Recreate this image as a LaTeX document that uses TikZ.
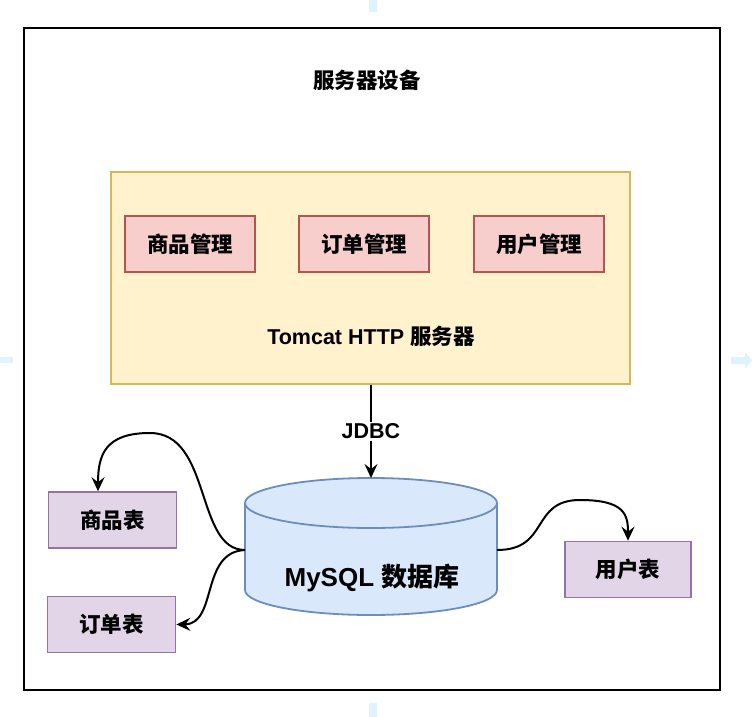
\documentclass[tikz,border=0pt]{standalone}
\usepackage{fontspec}
\setmainfont{Liberation Sans}
\newfontfamily\cjk{Noto Sans CJK SC}
\usetikzlibrary{arrows.meta}
\definecolor{tomfill}{HTML}{FFF2CC}
\definecolor{tomdraw}{HTML}{D6B656}
\definecolor{redfill}{HTML}{F8CECC}
\definecolor{reddraw}{HTML}{B85450}
\definecolor{dbfill}{HTML}{DAE8FC}
\definecolor{dbdraw}{HTML}{6C8EBF}
\definecolor{tabfill}{HTML}{E1D5E7}
\definecolor{tabdraw}{HTML}{9673A6}
\definecolor{guide}{HTML}{DFF2FD}
\tikzset{
  txt/.style={font=\fontsize{21.5}{25}\selectfont\bfseries, inner sep=0},
  modbox/.style={draw=reddraw, fill=redfill, line width=1.6pt, minimum width=130pt, minimum height=56pt, inner sep=0, font=\fontsize{21.5}{25}\selectfont\bfseries\cjk},
  tabbox/.style={draw=tabdraw, fill=tabfill, line width=1.6pt, minimum width=128pt, minimum height=56pt, inner sep=0, font=\fontsize{21.5}{25}\selectfont\bfseries\cjk},
  conn/.style={line width=2pt, -{Stealth[length=14pt,width=13pt,inset=5pt]}}
}
\begin{document}
\begin{tikzpicture}[x=1pt,y=-1pt]
\useasboundingbox (0,0) rectangle (752,717);
% guide marks
\fill[guide] (369,0) rectangle (377,12);
\fill[guide] (369,703) rectangle (377,717);
\fill[guide] (0,357) rectangle (13,363);
\fill[guide] (731,357) -- (745,357) -- (745,352) -- (752,360.5) -- (745,369) -- (745,364) -- (731,364) -- cycle;
% outer box
\node[draw, line width=2.2pt, minimum width=696pt, minimum height=662pt, inner sep=0] (outer) at (372,359) {};
\node[txt] (title) at (367,80) {\cjk 服务器设备};
% tomcat
\node[draw=tomdraw, fill=tomfill, line width=1.6pt, minimum width=519pt, minimum height=212pt, inner sep=0] (tomcat) at (370.5,278) {};
\node[modbox] (m1) at (190,244) {商品管理};
\node[modbox] (m2) at (364,244) {订单管理};
\node[modbox] (m3) at (539,244) {用户管理};
\node[txt] (tomtext) at (371,336) {Tomcat HTTP {\cjk 服务器}};
% database cylinder
\path[fill=dbfill, draw=dbdraw, line width=1.8pt] (245,503) -- (245,590) arc[start angle=180, end angle=0, x radius=126, y radius=25] -- (497,503) arc[start angle=0, end angle=-180, x radius=126, y radius=25] -- cycle;
\draw[dbdraw, line width=1.8pt] (245,503) arc[start angle=180, end angle=0, x radius=126, y radius=25];
\node[minimum width=252pt, minimum height=137pt, inner sep=0] (db) at (371,546.5) {};
\node[coordinate] (dbtop) at (371,478) {};
\node[font=\fontsize{26}{30}\selectfont\bfseries, inner sep=0] (dbtext) at (372,578) {MySQL {\cjk 数据库}};
% JDBC
\draw[conn] (tomcat.south -| dbtop) -- node[fill=white, txt, inner sep=2pt] (jdbc) {JDBC} (dbtop);
% tables
\node[tabbox] (t1) at (112.5,520) {商品表};
\node[tabbox] (t2) at (111.5,624.5) {订单表};
\node[tabbox, minimum width=126pt] (t3) at (628,569.5) {用户表};
\coordinate (dbL) at (245,550);
\coordinate (dbR) at (497,550);
\draw[conn] (dbL) .. controls (195,550) and (212,433) .. (150,433) .. controls (105,433) and (98,455) .. (t1.north -| 98,0);
\draw[conn] (dbL) .. controls (200,552) and (218,624) .. (t2.east);
\draw[conn] (dbR) .. controls (550,550) and (530,500) .. (580,500) .. controls (625,500) and (628,515) .. (t3.north -| 628,0);
\end{tikzpicture}
\end{document}
